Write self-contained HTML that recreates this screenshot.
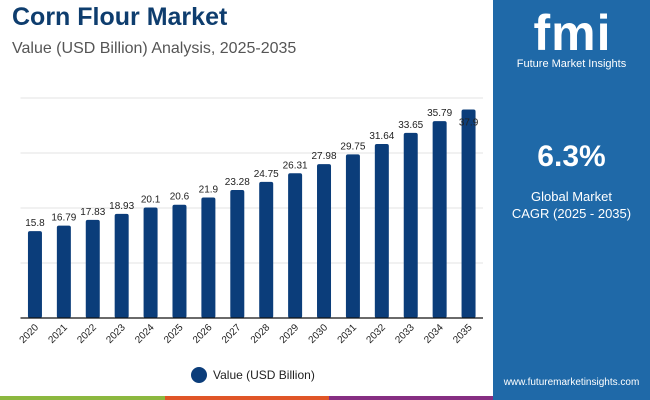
<!DOCTYPE html>
<html><head><meta charset="utf-8"><style>
body{margin:0;width:650px;height:400px;overflow:hidden;background:#fff;font-family:"Liberation Sans",sans-serif;position:relative}
.t{position:absolute;margin:0}
</style></head><body>
<div class="t" style="left:12px;top:3px;font-size:25px;font-weight:bold;color:#0e3d6e">Corn Flour Market</div>
<div class="t" style="left:12px;top:40px;font-size:16px;color:#555">Value (USD Billion) Analysis, 2025-2035</div>
<div style="position:absolute;left:493px;top:0;width:157px;height:400px;background:#1f69a8">
 <div style="position:absolute;left:22px;top:8px;width:115px;text-align:center;color:#fff;font-size:50px;font-weight:bold;font-family:'Liberation Sans',sans-serif;line-height:50px;letter-spacing:1px">fmi</div>
 <div style="position:absolute;left:0;top:58px;width:157px;text-align:center;color:#fff;font-size:11px">Future Market Insights</div>
 <div style="position:absolute;left:0;top:140px;width:157px;text-align:center;color:#fff;font-size:30px;font-weight:bold">6.3%</div>
 <div style="position:absolute;left:0;top:188px;width:157px;text-align:center;color:#fff;font-size:13px;line-height:17px">Global Market<br>CAGR (2025 - 2035)</div>
 <div style="position:absolute;left:0;top:377px;width:157px;text-align:center;color:#fff;font-size:10px">www.futuremarketinsights.com</div>
</div>
<div style="position:absolute;left:0;top:396px;width:165px;height:4px;background:#8cb83f"></div>
<div style="position:absolute;left:165px;top:396px;width:164px;height:4px;background:#e05527"></div>
<div style="position:absolute;left:329px;top:396px;width:164px;height:4px;background:#862e82"></div>
<svg id="c" width="493" height="396" style="position:absolute;left:0;top:0"></svg>
<script>
const categories=["2020","2021","2022","2023","2024","2025","2026","2027","2028","2029","2030","2031","2032","2033","2034","2035"];
const values=[15.8,16.79,17.83,18.93,20.1,20.6,21.9,23.28,24.75,26.31,27.98,29.75,31.64,33.65,35.79,37.9];
const labels=["15.8","16.79","17.83","18.93","20.1","20.6","21.9","23.28","24.75","26.31","27.98","29.75","31.64","33.65","35.79","37.9"];
const gridTicks=[0,10,20,30,40];
const NS="http://www.w3.org/2000/svg",svg=document.getElementById('c');
const x0=20.5,x1=483,y0=318,ppu=5.5;
const bw=(x1-x0)/categories.length;
const xs=i=>x0+bw*(i+0.5), ys=v=>y0-v*ppu;
function mk(t,a){const e=document.createElementNS(NS,t);for(const k in a)e.setAttribute(k,a[k]);svg.appendChild(e);return e;}
gridTicks.forEach(g=>{if(g===0)return;const l=mk('line',{x1:x0,x2:x1,y1:ys(g),y2:ys(g),stroke:'#e3e3e3','stroke-width':1});

});
values.forEach((v,i)=>{
 const r=mk('rect',{x:xs(i)-7,y:ys(v),width:14,height:v*ppu,fill:'#0b3d7a',rx:2});
 
 
 let ly=ys(v)-5; if(ly<110) ly=ys(v)+16;
 const t=mk('text',{x:xs(i),y:ly,'text-anchor':'middle','font-size':10,fill:'#222','font-family':'Liberation Sans'});t.textContent=labels[i];
 
 
 const c=mk('text',{x:xs(i)+4,y:y0+10,'text-anchor':'end','font-size':10,fill:'#222','font-family':'Liberation Sans',transform:`rotate(-45 ${xs(i)+4} ${y0+10})`});c.textContent=categories[i];
 
 
});
const ax=mk('line',{x1:x0,x2:x1,y1:y0,y2:y0,stroke:'#111','stroke-width':1.2});


const lc=mk('circle',{cx:199,cy:375,r:8,fill:'#0b3d7a'});


const lt=mk('text',{x:213,y:379,'font-size':12,fill:'#222','font-family':'Liberation Sans'});lt.textContent='Value (USD Billion)';


</script>
</body></html>
